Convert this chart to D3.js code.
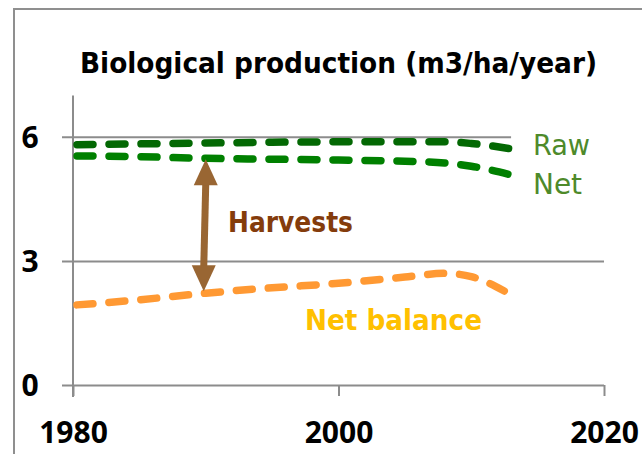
<!DOCTYPE html>
<html>
<head>
<meta charset="utf-8">
<script src="https://cdn.jsdelivr.net/npm/d3@7"></script>
<style>
  body { margin: 0; background: #fff; }
  svg { display: block; }
</style>
</head>
<body>
<div id="chart"></div>
<script>

// years (x values of the curves)
var years = [1980, 1985, 1990, 1995, 2000, 2005, 2008, 2010, 2013];
var rawValues = [5.81, 5.83, 5.85, 5.87, 5.88, 5.88, 5.88, 5.84, 5.71];
var netValues = [5.54, 5.52, 5.48, 5.46, 5.44, 5.41, 5.37, 5.29, 5.08];

// net balance stops a little earlier than the two green curves
var balanceYears = [1980, 1985, 1990, 1995, 2000, 2005, 2008, 2010, 2012.5];
var balanceValues = [1.93, 2.06, 2.22, 2.35, 2.46, 2.61, 2.70, 2.62, 2.27];

var xTicks = [1980, 2000, 2020];
var yTicks = [0, 3, 6];
var harvestYear = 1990;

var svgWidth = 642;
var svgHeight = 454;

var svg = d3.select("#chart").append("svg")
  .attr("width", svgWidth)
  .attr("height", svgHeight);

// frame around the picture (runs out of the right and bottom edges)
svg.append("rect")
  .attr("x", 14)
  .attr("y", 9)
  .attr("width", 700)
  .attr("height", 500)
  .attr("fill", "none")
  .attr("stroke", "#8f8f8f")
  .attr("stroke-width", 2);

// scales
var xScale = d3.scaleLinear()
  .domain([1980, 2020])
  .range([73, 604]);

var yScale = d3.scaleLinear()
  .domain([0, 7])
  .range([385, 95.5]);

// horizontal grid lines with small ticks on the left
var grid = svg.append("g")
  .attr("transform", `translate(${xScale(1980)}, 0)`)
  .call(d3.axisLeft(yScale).tickValues(yTicks).tickSizeInner(11).tickSizeOuter(0).tickFormat(""));
grid.select(".domain").remove();
grid.selectAll(".tick line")
  .attr("x1", d => xScale(2020) - xScale(1980))
  .attr("stroke", "#8c8c8c")
  .attr("stroke-width", 2);

// y axis line
svg.append("line")
  .attr("x1", xScale(1980))
  .attr("x2", xScale(1980))
  .attr("y1", yScale(7))
  .attr("y2", yScale(0) + 12)
  .attr("stroke", "#8c8c8c")
  .attr("stroke-width", 2);

var tickFont = "'Open Sans', Lato, sans-serif";

// y tick labels
svg.selectAll(".ylabel")
  .data(yTicks)
  .enter()
  .append("text")
  .attr("class", "ylabel")
  .attr("x", 30)
  .attr("y", d => yScale(d))
  .attr("dy", "0.36em")
  .attr("text-anchor", "middle")
  .attr("font-family", tickFont)
  .attr("font-weight", "bold")
  .attr("font-size", 30)
  .attr("fill", "#000")
  .text(d => d);

// x axis ticks (down) and labels
var xAxis = svg.append("g")
  .attr("transform", `translate(0, ${yScale(0)})`)
  .call(d3.axisBottom(xScale).tickValues(xTicks).tickSizeInner(11).tickSizeOuter(0).tickFormat(d3.format("d")));
xAxis.select(".domain").remove();
xAxis.selectAll(".tick line")
  .attr("stroke", "#8c8c8c")
  .attr("stroke-width", 2);
xAxis.selectAll(".tick text")
  .attr("y", 58)
  .attr("dy", 0)
  .attr("font-family", tickFont)
  .attr("font-weight", "bold")
  .attr("font-size", 30)
  .attr("fill", "#000");

// white box behind the Raw / Net labels hides the end of the 6 grid line
svg.append("rect")
  .attr("x", xScale(2013))
  .attr("y", 122)
  .attr("width", 130)
  .attr("height", 80)
  .attr("fill", "#fff");

// line generator shared by the three curves
var line = d3.line()
  .x(d => xScale(d[0]))
  .y(d => yScale(d[1]))
  .curve(d3.curveMonotoneX);

var series = [
  { years: years, values: rawValues, color: "#036803" },
  { years: years, values: netValues, color: "#008000" },
  { years: balanceYears, values: balanceValues, color: "#ff9933" }
];

svg.selectAll(".curve")
  .data(series)
  .enter()
  .append("path")
  .attr("class", "curve")
  .attr("d", s => line(s.years.map((y, i) => [y, s.values[i]])))
  .attr("fill", "none")
  .attr("stroke", s => s.color)
  .attr("stroke-width", 7.5)
  .attr("stroke-linecap", "round")
  .attr("stroke-dasharray", "16,16")
  .attr("stroke-dashoffset", -4);

// double arrow for harvests (between net production and net balance)
var arrowColor = "#996633";
var ax = xScale(harvestYear);
var yTop = yScale(netValues[years.indexOf(harvestYear)]) + 1;
var yBot = yScale(balanceValues[balanceYears.indexOf(harvestYear)]) - 2;
var headLen = 26;
var headHalf = 12;

svg.append("line")
  .attr("x1", ax)
  .attr("x2", ax - 2)
  .attr("y1", yTop + headLen - 2)
  .attr("y2", yBot - headLen + 2)
  .attr("stroke", arrowColor)
  .attr("stroke-width", 7);

svg.append("path")
  .attr("d", `M${ax},${yTop} L${ax + headHalf},${yTop + headLen} L${ax - headHalf},${yTop + headLen} Z`)
  .attr("fill", arrowColor);

svg.append("path")
  .attr("d", `M${ax - 2},${yBot} L${ax - 2 + headHalf},${yBot - headLen} L${ax - 2 - headHalf},${yBot - headLen} Z`)
  .attr("fill", arrowColor);

// title
svg.append("text")
  .attr("x", 80)
  .attr("y", 73)
  .attr("font-family", "'DejaVu Sans Condensed', 'DejaVu Sans', sans-serif")
  .attr("font-weight", "bold")
  .attr("font-size", 28)
  .attr("textLength", 517)
  .attr("lengthAdjust", "spacingAndGlyphs")
  .attr("fill", "#000")
  .text("Biological production (m3/ha/year)");

// curve labels
var labels = [
  { text: "Raw", x: 533, y: 155, w: 57, color: "#4e8a2a", weight: "normal" },
  { text: "Net", x: 533, y: 194, w: 49, color: "#4e8a2a", weight: "normal" },
  { text: "Harvests", x: 228, y: 232, w: 125, color: "#843c0c", weight: "bold" },
  { text: "Net balance", x: 305, y: 330, w: 177, color: "#ffc000", weight: "bold" }
];

svg.selectAll(".label")
  .data(labels)
  .enter()
  .append("text")
  .attr("class", "label")
  .attr("x", d => d.x)
  .attr("y", d => d.y)
  .attr("font-family", "'DejaVu Sans Condensed', 'DejaVu Sans', sans-serif")
  .attr("font-weight", d => d.weight)
  .attr("font-size", 29)
  .attr("textLength", d => d.w)
  .attr("lengthAdjust", "spacingAndGlyphs")
  .attr("fill", d => d.color)
  .text(d => d.text);

</script>
</body>
</html>
